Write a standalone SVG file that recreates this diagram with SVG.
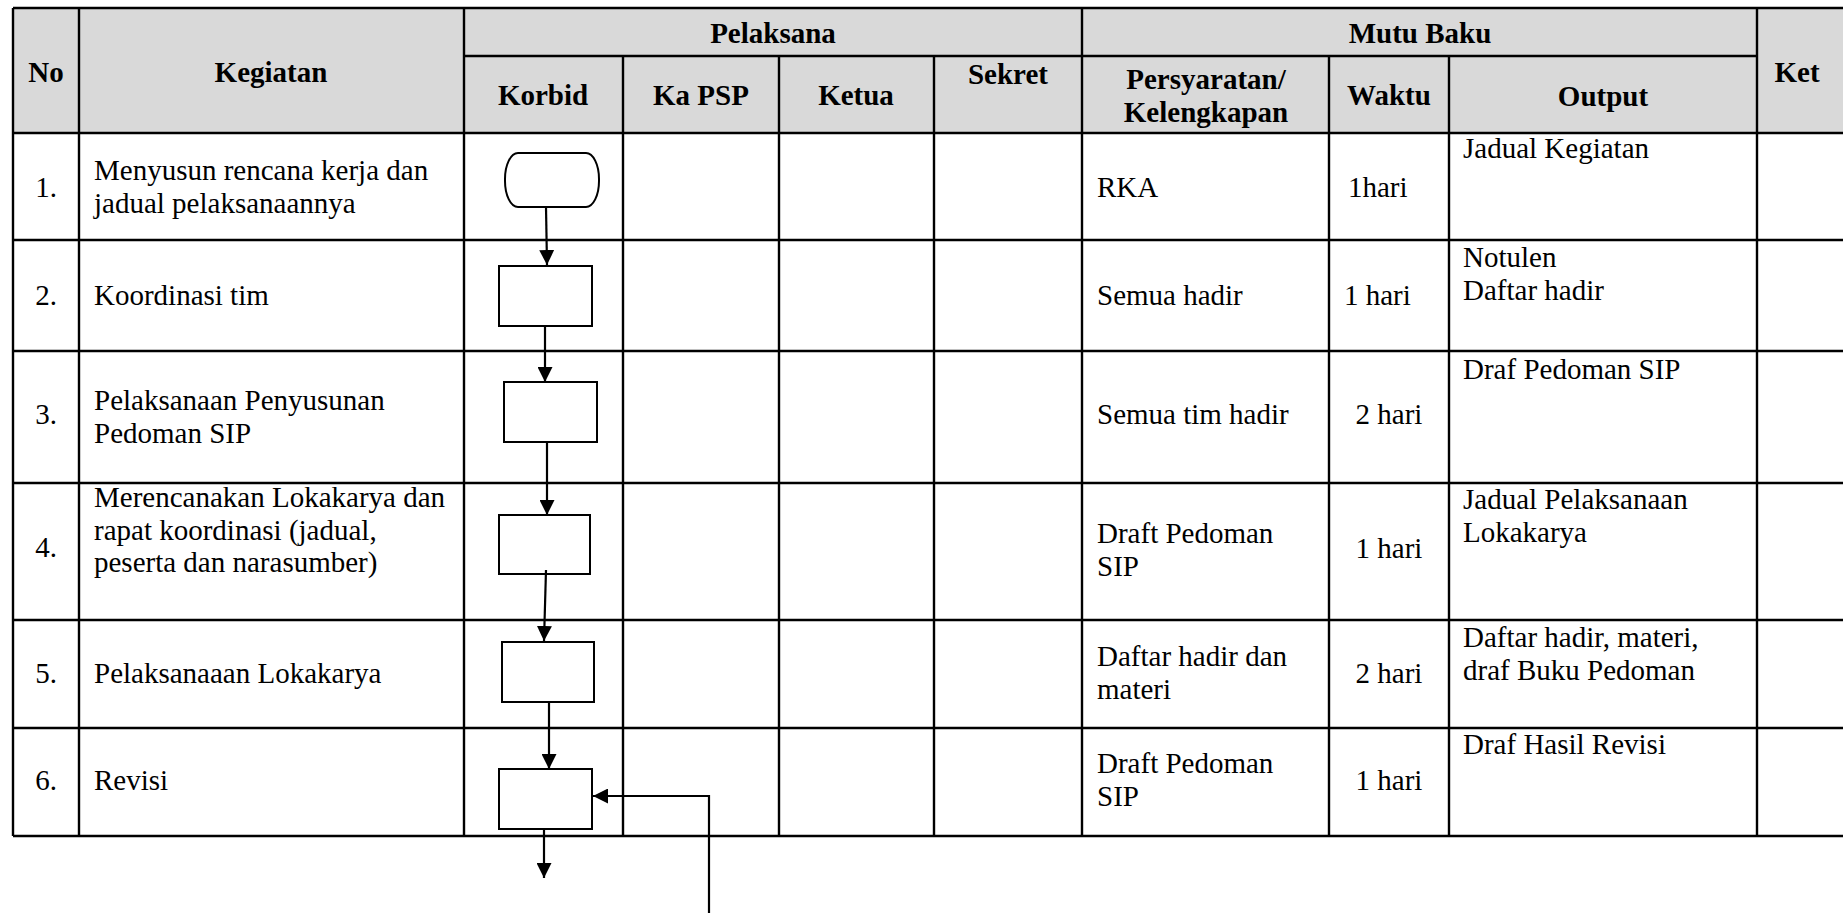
<svg xmlns="http://www.w3.org/2000/svg" width="1843" height="913" viewBox="0 0 1843 913">
<defs>
<marker id="ah" markerUnits="userSpaceOnUse" markerWidth="15" markerHeight="15" refX="15" refY="7.5" orient="auto">
<path d="M0,0 L15,7.5 L0,15 z" fill="#000"/>
</marker>
<style>
.grid line{stroke:#000;stroke-width:2.4}
.t{font-family:"Liberation Serif","Times New Roman",serif;font-size:29px;fill:#000}
.b{font-weight:bold}
.m{text-anchor:middle}
.shape{fill:#fff;stroke:#000;stroke-width:2}
.con{fill:none;stroke:#000;stroke-width:2.2;marker-end:url(#ah)}
</style>
</defs>
<rect width="1843" height="913" fill="#fff"/>
<rect x="13" y="8" width="1832" height="125" fill="#d9d9d9"/>
<g class="grid">
<line x1="13" y1="8" x2="1845" y2="8"/>
<line x1="464" y1="56" x2="1757" y2="56"/>
<line x1="13" y1="133" x2="1845" y2="133"/>
<line x1="13" y1="240" x2="1845" y2="240"/>
<line x1="13" y1="351" x2="1845" y2="351"/>
<line x1="13" y1="483" x2="1845" y2="483"/>
<line x1="13" y1="620" x2="1845" y2="620"/>
<line x1="13" y1="728" x2="1845" y2="728"/>
<line x1="13" y1="836" x2="1845" y2="836"/>
<line x1="13" y1="8" x2="13" y2="836"/>
<line x1="79" y1="8" x2="79" y2="836"/>
<line x1="464" y1="8" x2="464" y2="836"/>
<line x1="623" y1="56" x2="623" y2="836"/>
<line x1="779" y1="56" x2="779" y2="836"/>
<line x1="934" y1="56" x2="934" y2="836"/>
<line x1="1082" y1="8" x2="1082" y2="836"/>
<line x1="1329" y1="56" x2="1329" y2="836"/>
<line x1="1449" y1="56" x2="1449" y2="836"/>
<line x1="1757" y1="8" x2="1757" y2="836"/>
<line x1="1845" y1="8" x2="1845" y2="836"/>
</g>
<g id="header" class="t b">
<text class="m" x="46" y="82">No</text>
<text class="m" x="271" y="82">Kegiatan</text>
<text class="m" x="773" y="43">Pelaksana</text>
<text class="m" x="1420" y="43">Mutu Baku</text>
<text class="m" x="1797" y="82">Ket</text>
<text class="m" x="543" y="105">Korbid</text>
<text class="m" x="701" y="105">Ka PSP</text>
<text class="m" x="856" y="105">Ketua</text>
<text class="m" x="1008" y="84">Sekret</text>
<text class="m" x="1206" y="89">Persyaratan/</text>
<text class="m" x="1206" y="121.5">Kelengkapan</text>
<text class="m" x="1389" y="105">Waktu</text>
<text class="m" x="1603" y="106">Output</text>
</g>
<g id="row1" class="t">
<text class="m" x="46" y="197">1.</text>
<text x="94" y="180">Menyusun rencana kerja dan</text>
<text x="94" y="212.5">jadual pelaksanaannya</text>
<text x="1097" y="197">RKA</text>
<text x="1348" y="197">1hari</text>
<text x="1463" y="158">Jadual Kegiatan</text>
</g>
<g id="row2" class="t">
<text class="m" x="46" y="305">2.</text>
<text x="94" y="305">Koordinasi tim</text>
<text x="1097" y="305">Semua hadir</text>
<text x="1344" y="305">1 hari</text>
<text x="1463" y="267">Notulen</text>
<text x="1463" y="299.5">Daftar hadir</text>
</g>
<g id="row3" class="t">
<text class="m" x="46" y="424">3.</text>
<text x="94" y="410">Pelaksanaan Penyusunan</text>
<text x="94" y="442.5">Pedoman SIP</text>
<text x="1097" y="424">Semua tim hadir</text>
<text class="m" x="1389" y="424">2 hari</text>
<text x="1463" y="379">Draf Pedoman SIP</text>
</g>
<g id="row4" class="t">
<text class="m" x="46" y="557">4.</text>
<text x="94" y="507">Merencanakan Lokakarya dan</text>
<text x="94" y="539.5">rapat koordinasi (jadual,</text>
<text x="94" y="572">peserta dan narasumber)</text>
<text x="1097" y="543">Draft Pedoman</text>
<text x="1097" y="575.5">SIP</text>
<text class="m" x="1389" y="558">1 hari</text>
<text x="1463" y="509">Jadual Pelaksanaan</text>
<text x="1463" y="541.5">Lokakarya</text>
</g>
<g id="row5" class="t">
<text class="m" x="46" y="683">5.</text>
<text x="94" y="683">Pelaksanaaan Lokakarya</text>
<text x="1097" y="666">Daftar hadir dan</text>
<text x="1097" y="698.5">materi</text>
<text class="m" x="1389" y="683">2 hari</text>
<text x="1463" y="647">Daftar hadir, materi,</text>
<text x="1463" y="679.5">draf Buku Pedoman</text>
</g>
<g id="row6" class="t">
<text class="m" x="46" y="790">6.</text>
<text x="94" y="790">Revisi</text>
<text x="1097" y="773">Draft Pedoman</text>
<text x="1097" y="805.5">SIP</text>
<text class="m" x="1389" y="790">1 hari</text>
<text x="1463" y="754">Draf Hasil Revisi</text>
</g>
<g id="n1"><rect class="shape" x="505" y="153" width="94" height="54" rx="13" ry="26"/></g>
<g id="n2"><rect class="shape" x="499" y="266" width="93" height="60"/></g>
<g id="n3"><rect class="shape" x="504" y="382" width="93" height="60"/></g>
<g id="n4"><rect class="shape" x="499" y="515" width="91" height="59"/></g>
<g id="n5"><rect class="shape" x="502" y="642" width="92" height="60"/></g>
<g id="n6"><rect class="shape" x="499" y="769" width="93" height="60"/></g>
<g id="connectors">
<path class="con" d="M546,207 L547,265"/>
<path class="con" d="M545,326 L545,382"/>
<path class="con" d="M547,442 L547,515"/>
<path class="con" d="M546,570 L544,641"/>
<path class="con" d="M549,702 L549,769"/>
<path class="con" d="M544,829 L544,878"/>
<path class="con" d="M709,913 L709,796 L593,796"/>
</g>
</svg>
